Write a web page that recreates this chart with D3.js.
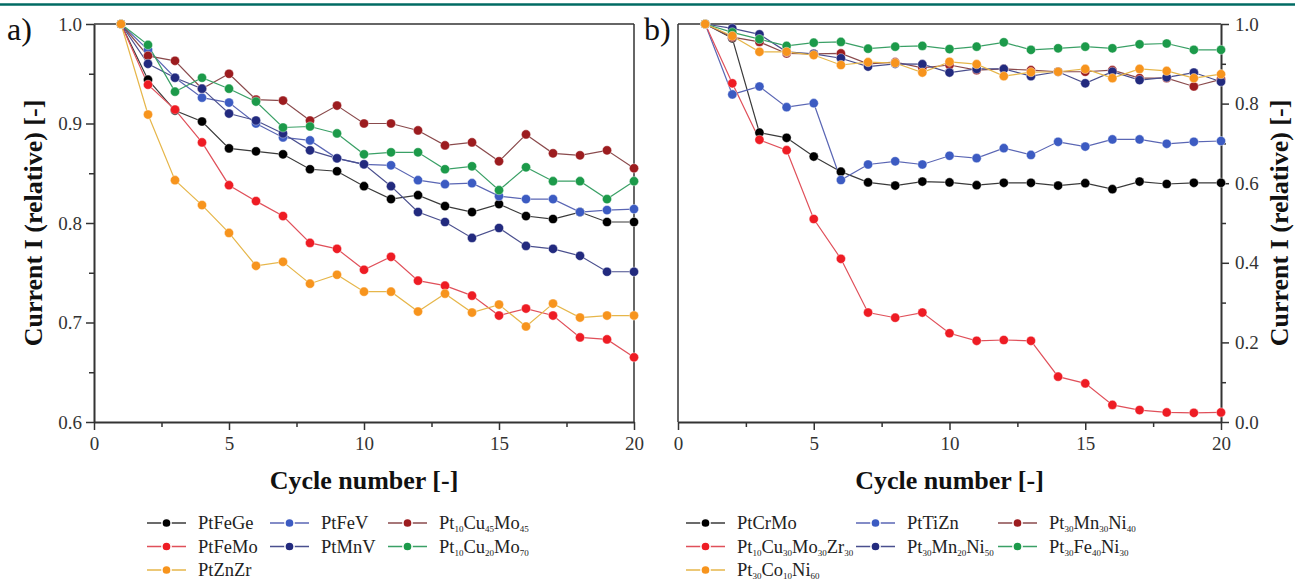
<!DOCTYPE html>
<html>
<head>
<meta charset="utf-8">
<script src="https://cdn.jsdelivr.net/npm/d3@7"></script>
<style>
  body { margin: 0; background: #fff; }
  .domain, .tick line { stroke: #333; }
</style>
</head>
<body>
<div id="chart"></div>
<script>
// --- data ---
const cycles = [1, 2, 3, 4, 5, 6, 7, 8, 9, 10, 11, 12, 13, 14, 15, 16, 17, 18, 19, 20];

// panel a
const ptFeGe = [1.0, 0.944, 0.913, 0.902, 0.875, 0.872, 0.869, 0.854, 0.852, 0.837, 0.824, 0.828, 0.817, 0.811, 0.819, 0.807, 0.804, 0.811, 0.801, 0.801];
const ptFeMo = [1.0, 0.939, 0.914, 0.881, 0.838, 0.822, 0.807, 0.780, 0.774, 0.753, 0.766, 0.742, 0.737, 0.727, 0.707, 0.714, 0.707, 0.685, 0.683, 0.665];
const ptZnZr = [1.0, 0.909, 0.843, 0.818, 0.790, 0.757, 0.761, 0.739, 0.748, 0.731, 0.731, 0.711, 0.729, 0.710, 0.718, 0.696, 0.719, 0.705, 0.707, 0.707];
const ptFeV = [1.0, 0.974, 0.946, 0.926, 0.921, 0.900, 0.886, 0.883, 0.865, 0.859, 0.858, 0.843, 0.839, 0.840, 0.827, 0.824, 0.824, 0.811, 0.813, 0.814];
const ptMnV = [1.0, 0.960, 0.946, 0.935, 0.910, 0.903, 0.890, 0.873, 0.865, 0.859, 0.837, 0.811, 0.801, 0.785, 0.795, 0.777, 0.774, 0.767, 0.751, 0.751];
const pt10Cu45Mo45 = [1.0, 0.968, 0.963, 0.935, 0.950, 0.924, 0.923, 0.903, 0.918, 0.900, 0.900, 0.893, 0.878, 0.881, 0.862, 0.889, 0.870, 0.868, 0.873, 0.855];
const pt10Cu20Mo70 = [1.0, 0.979, 0.932, 0.946, 0.935, 0.922, 0.896, 0.897, 0.890, 0.869, 0.871, 0.871, 0.854, 0.857, 0.833, 0.856, 0.842, 0.842, 0.824, 0.842];

// panel b
const ptCrMo = [1.0, 0.964, 0.727, 0.714, 0.667, 0.629, 0.602, 0.594, 0.604, 0.602, 0.595, 0.601, 0.601, 0.594, 0.600, 0.585, 0.604, 0.598, 0.601, 0.601];
const ptTiZn = [1.0, 0.823, 0.843, 0.791, 0.801, 0.608, 0.647, 0.655, 0.647, 0.669, 0.663, 0.688, 0.671, 0.704, 0.692, 0.710, 0.710, 0.699, 0.704, 0.706];
const pt10Cu30Mo30Zr30 = [1.0, 0.851, 0.709, 0.683, 0.510, 0.410, 0.275, 0.262, 0.275, 0.223, 0.204, 0.206, 0.204, 0.114, 0.097, 0.043, 0.030, 0.024, 0.023, 0.024];
const pt30Mn30Ni40 = [1.0, 0.967, 0.955, 0.926, 0.925, 0.926, 0.900, 0.904, 0.890, 0.897, 0.884, 0.887, 0.884, 0.880, 0.880, 0.884, 0.864, 0.864, 0.843, 0.861];
const pt30Mn20Ni50 = [1.0, 0.989, 0.974, 0.930, 0.925, 0.914, 0.893, 0.900, 0.899, 0.878, 0.887, 0.887, 0.869, 0.880, 0.851, 0.880, 0.859, 0.866, 0.878, 0.855];
const pt30Fe40Ni30 = [1.0, 0.979, 0.962, 0.945, 0.953, 0.955, 0.938, 0.943, 0.945, 0.937, 0.943, 0.954, 0.935, 0.939, 0.943, 0.939, 0.949, 0.951, 0.935, 0.935];
const pt30Co10Ni60 = [1.0, 0.970, 0.930, 0.930, 0.922, 0.897, 0.904, 0.902, 0.878, 0.905, 0.899, 0.869, 0.879, 0.880, 0.887, 0.864, 0.887, 0.882, 0.864, 0.874];

const xTicks = [0, 5, 10, 15, 20];
const yTicksA = [0.6, 0.7, 0.8, 0.9, 1.0];
const yTicksB = [0.0, 0.2, 0.4, 0.6, 0.8, 1.0];

// colours: marker fill, connecting line
const col = {
  black: ["#000000", "#3a3a3a"],
  red: ["#ee1c24", "#e0505a"],
  orange: ["#f7941d", "#e6b64a"],
  blue: ["#3c5bc2", "#5a66b4"],
  navy: ["#222a7e", "#4a4f8e"],
  darkred: ["#9c1c1f", "#8a4a4c"],
  green: ["#1c9a4a", "#3aa066"]
};

const seriesA = [
  { name: "PtFeGe", values: ptFeGe, c: col.black },
  { name: "PtFeV", values: ptFeV, c: col.blue },
  { name: "Pt10Cu45Mo45", values: pt10Cu45Mo45, c: col.darkred },
  { name: "PtFeMo", values: ptFeMo, c: col.red },
  { name: "PtMnV", values: ptMnV, c: col.navy },
  { name: "Pt10Cu20Mo70", values: pt10Cu20Mo70, c: col.green },
  { name: "PtZnZr", values: ptZnZr, c: col.orange }
];

const seriesB = [
  { name: "PtCrMo", values: ptCrMo, c: col.black },
  { name: "PtTiZn", values: ptTiZn, c: col.blue },
  { name: "Pt30Mn30Ni40", values: pt30Mn30Ni40, c: col.darkred },
  { name: "Pt10Cu30Mo30Zr30", values: pt10Cu30Mo30Zr30, c: col.red },
  { name: "Pt30Mn20Ni50", values: pt30Mn20Ni50, c: col.navy },
  { name: "Pt30Fe40Ni30", values: pt30Fe40Ni30, c: col.green },
  { name: "Pt30Co10Ni60", values: pt30Co10Ni60, c: col.orange }
];

const W = 1295, H = 583;
const FONT = "'Liberation Serif', 'Times New Roman', serif";
const svg = d3.select("#chart").append("svg").attr("width", W).attr("height", H);

// teal rule at top
svg.append("line").attr("x1", 0).attr("x2", W).attr("y1", 4.5).attr("y2", 4.5)
  .attr("stroke", "#006b63").attr("stroke-width", 2.5);

const plotTop = 24, plotBottom = 422;

function panel(opts) {
  const g = svg.append("g");
  const x = d3.scaleLinear().domain([0, 20]).range([opts.left, opts.right]);
  const y = d3.scaleLinear().domain(opts.yDomain).range([plotBottom, plotTop]);

  // frame
  g.append("line").attr("x1", opts.left).attr("x2", opts.right).attr("y1", plotTop).attr("y2", plotTop)
    .attr("stroke", "#333").attr("stroke-width", 1.5);
  const frameX = opts.yRight ? opts.left : opts.right;
  g.append("line").attr("x1", frameX).attr("x2", frameX).attr("y1", plotTop).attr("y2", plotBottom)
    .attr("stroke", "#333").attr("stroke-width", 1.5);

  // x axis
  const xMinor = xTicks.slice(0, -1).map(d => d + 2.5);
  g.append("g").attr("transform", `translate(0,${plotBottom})`)
    .call(d3.axisBottom(x).tickValues(xMinor).tickSize(5).tickFormat(""))
    .call(a => a.select(".domain").remove())
    .call(a => a.selectAll("text").remove())
    .selectAll("line").attr("stroke-width", 1.5);
  const gx = g.append("g").attr("transform", `translate(0,${plotBottom})`)
    .call(d3.axisBottom(x).tickValues(xTicks).tickSize(8).tickSizeOuter(0).tickPadding(7).tickFormat(d3.format("d")));
  gx.select(".domain").attr("stroke-width", 2);
  gx.selectAll("line").attr("stroke-width", 1.5);
  gx.selectAll("text").attr("font-size", 19).attr("fill", "#333");

  // y axis
  const yTicks = opts.yTicks;
  const step = yTicks[1] - yTicks[0];
  const yMinor = yTicks.slice(0, -1).map(d => d + step / 2);
  const ax = opts.yRight ? opts.right : opts.left;
  const mkAxis = opts.yRight ? d3.axisRight : d3.axisLeft;
  g.append("g").attr("transform", `translate(${ax},0)`)
    .call(mkAxis(y).tickValues(yMinor).tickSize(5).tickFormat(""))
    .call(a => a.select(".domain").remove())
    .call(a => a.selectAll("text").remove())
    .selectAll("line").attr("stroke-width", 1.5);
  const gy = g.append("g").attr("transform", `translate(${ax},0)`)
    .call(mkAxis(y).tickValues(yTicks).tickSize(8).tickSizeOuter(0).tickPadding(opts.yRight ? 6 : 4).tickFormat(d3.format(".1f")));
  gy.select(".domain").attr("stroke-width", 2);
  gy.selectAll("line").attr("stroke-width", 1.5);
  gy.selectAll("text").attr("font-size", 19).attr("fill", "#333");

  // series
  const line = d3.line().x((d, i) => x(cycles[i])).y(d => y(d));
  opts.series.forEach(s => {
    g.append("path").datum(s.values)
      .attr("fill", "none").attr("stroke", s.c[1]).attr("stroke-width", 1.2).attr("d", line);
  });
  opts.series.forEach(s => {
    g.selectAll(null).data(s.values).enter().append("circle")
      .attr("cx", (d, i) => x(cycles[i])).attr("cy", d => y(d)).attr("r", 4.6)
      .attr("fill", s.c[0]).attr("stroke", "#fff").attr("stroke-width", 0.4);
  });

  // titles
  g.append("text").attr("x", (opts.left + opts.right) / 2).attr("y", 489)
    .attr("text-anchor", "middle").attr("font-size", 26).attr("font-weight", "bold").attr("fill", "#111")
    .text("Cycle number [-]");
  g.append("text")
    .attr("transform", `translate(${opts.yTitleX},${(plotTop + plotBottom) / 2}) rotate(-90)`)
    .attr("text-anchor", "middle").attr("font-size", 26).attr("font-weight", "bold").attr("fill", "#111")
    .text("Current I (relative) [-]");
  g.append("text").attr("x", opts.labelX).attr("y", 40).attr("font-size", 32).attr("fill", "#111")
    .text(opts.label);

  // legend
  opts.series.forEach((s, i) => {
    const c = i % 3, row = Math.floor(i / 3);
    const lx = opts.legendX[c], ly = 523 + row * 23.5;
    g.append("line").attr("x1", lx).attr("x2", lx + 39).attr("y1", ly).attr("y2", ly)
      .attr("stroke", s.c[1]).attr("stroke-width", 1.5);
    g.append("circle").attr("cx", lx + 19.5).attr("cy", ly).attr("r", 4.6).attr("fill", s.c[0])
      .attr("stroke", "#fff").attr("stroke-width", 1.5);
    const t = g.append("text").attr("x", lx + 51).attr("y", ly + 6).attr("font-size", 18.5).attr("fill", "#222");
    let shifted = false;
    s.name.split(/(\d+)/).filter(p => p !== "").forEach(p => {
      if (/^\d+$/.test(p)) {
        t.append("tspan").attr("font-size", 9).attr("dy", 3).text(p);
        shifted = true;
      } else {
        t.append("tspan").attr("dy", shifted ? -3 : 0).text(p);
        shifted = false;
      }
    });
  });
}

panel({
  left: 94, right: 634, yDomain: [0.6, 1.0], yTicks: yTicksA, yRight: false,
  series: seriesA, yTitleX: 42, label: "a)", labelX: 7, legendX: [147, 270, 388]
});

panel({
  left: 678, right: 1221, yDomain: [0.0, 1.0], yTicks: yTicksB, yRight: true,
  series: seriesB, yTitleX: 1288, label: "b)", labelX: 644, legendX: [686, 856, 998]
});

// serif everywhere, as in the original figure
svg.selectAll("text").style("font-family", FONT);
</script>
</body>
</html>
